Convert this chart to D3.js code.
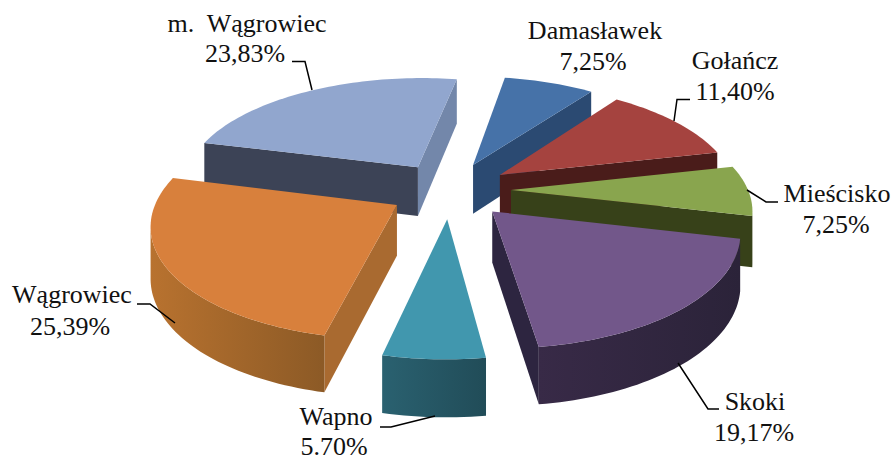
<!DOCTYPE html>
<html lang="pl">
<head>
    <meta charset="UTF-8">
    <title>Udział gmin</title>
    <style>
        html, body { margin: 0; padding: 0; background: #fff; }
        text { font-family: "Liberation Serif", serif; font-size: 26px; fill: #111; }
    </style>
</head>
<body>
    <div id="chart"></div>

    <script src="https://d3js.org/d3.v7.min.js"></script>
    <script type="text/javascript">
const names = ["Damasławek", "Gołańcz", "Mieścisko", "Skoki", "Wapno", "Wągrowiec", "m. Wągrowiec"];
const shares = [7.25, 11.40, 7.25, 19.17, 5.70, 25.39, 23.83];

const topColors = ["#4672a8", "#a5433f", "#89a54e", "#72578a", "#4197ae", "#d8803c", "#91a6ce"];
const startWallColors = ["#2f5580", "#4a1c1a", "#374119", "#2b2339", "#2a6170", "#a96a30", "#3c4356"];
const endWallColors = ["#2b4a72", "#4a1c1a", "#374119", "#2d2540", "#214c58", "#8c5a26", "#7387aa"];
const rimFrom = ["#2b4a72", "#4a1c1a", "#374119", "#2b2339", "#214c58", "#8c5a26", "#3c4356"];
const rimTo = ["#2b4a72", "#4a1c1a", "#374119", "#382a47", "#2a6170", "#b8722f", "#3c4356"];

// label text, anchor x, first and second baseline, leader line
const labelLayout = [
    { lines: ["Damasławek", "7,25%"], x: [595, 593], y: [39, 70], leader: null },
    { lines: ["Gołańcz", "11,40%"], x: [735, 735], y: [69, 100], leader: [[690, 99.5], [677, 99.5], [674, 121]] },
    { lines: ["Mieścisko", "7,25%"], x: [837, 836], y: [202, 233], leader: [[778, 202], [766, 202], [747, 190]] },
    { lines: ["Skoki", "19,17%"], x: [755, 754], y: [410, 441], leader: [[719, 409], [708, 409], [678, 363]] },
    { lines: ["Wapno", "5.70%"], x: [336, 334], y: [425, 455], leader: [[380, 427], [391, 427], [435, 416]] },
    { lines: ["Wągrowiec", "25,39%"], x: [72, 70], y: [303, 335], leader: [[137, 304], [150, 304], [175, 323]] },
    { lines: ["m.  Wągrowiec", "23,83%"], x: [247, 245], y: [32, 62], leader: [[292, 61.5], [305, 61.5], [312, 90]] }
];

const width = 894;
const height = 461;

// projection of the tilted pie
const cx = 450;
const cy = 190;
const radius = 237;
const explode = 61;
const tilt = 0.46;
const persp = 0.00064;
const depth = 50;
const firstAngle = 10 * Math.PI / 180;

const svg = d3.select("#chart")
    .append("svg")
    .attr("width", width)
    .attr("height", height)
    .style("display", "block");

const defs = svg.append("defs");

function project(u, v, z) {
    const s = 1 / (1 - persp * v);
    const zs = Math.pow(s, 0.7);
    return [cx + u * s, cy + v * tilt * s + z * depth * zs];
}

const pie = d3.pie()
    .sort(null)
    .startAngle(firstAngle)
    .endAngle(firstAngle + 2 * Math.PI);

const arcs = pie(shares);
const line = d3.line();

function signedArea(pts) {
    let a = 0;
    pts.forEach(function(p, i) {
        const q = pts[(i + 1) % pts.length];
        a += p[0] * q[1] - q[0] * p[1];
    });
    return a / 2;
}

function wallPoly(p, q) {
    return [project(p[0], p[1], 0), project(q[0], q[1], 0), project(q[0], q[1], 1), project(p[0], p[1], 1)];
}

const slices = arcs.map(function(d, i) {
    const mid = (d.startAngle + d.endAngle) / 2;
    const ax = explode * Math.sin(mid);
    const ay = -explode * Math.cos(mid);
    const steps = Math.max(6, Math.round((d.endAngle - d.startAngle) * 40));
    const rim = d3.range(steps + 1).map(function(k) {
        const a = d.startAngle + (d.endAngle - d.startAngle) * k / steps;
        return [ax + radius * Math.sin(a), ay - radius * Math.cos(a)];
    });
    return { i: i, ax: ax, ay: ay, rim: rim };
});

// back slices first
slices.sort(function(a, b) { return a.ay - b.ay; });

const chart = svg.append("g").attr("class", "pie");

slices.forEach(function(sl) {
    const g = chart.append("g").attr("class", "slice");

    function wall(p, q, color) {
        // outward faces wind the same way on screen, the rest is hidden
        const poly = wallPoly(p, q);
        if (signedArea(poly) >= 0) return;
        g.append("path")
            .attr("d", line(poly) + "Z")
            .attr("fill", color);
    }

    const apex = [sl.ax, sl.ay];
    const rim = sl.rim;
    wall(apex, rim[0], startWallColors[sl.i]);
    wall(rim[rim.length - 1], apex, endWallColors[sl.i]);

    // visible part of the outer rim, one shape with a gradient along it
    const visible = d3.pairs(rim).filter(function(pair) {
        return signedArea(wallPoly(pair[0], pair[1])) < 0;
    });
    if (visible.length) {
        const pts = visible.map(function(pair) { return pair[0]; }).concat([visible[visible.length - 1][1]]);
        const upper = pts.map(function(p) { return project(p[0], p[1], 0); });
        const lower = pts.map(function(p) { return project(p[0], p[1], 1); }).reverse();
        const gradId = "rim" + sl.i;
        const grad = defs.append("linearGradient")
            .attr("id", gradId)
            .attr("gradientUnits", "userSpaceOnUse")
            .attr("x1", upper[0][0])
            .attr("y1", 0)
            .attr("x2", upper[upper.length - 1][0])
            .attr("y2", 0);
        grad.append("stop").attr("offset", 0).attr("stop-color", rimFrom[sl.i]);
        grad.append("stop").attr("offset", 1).attr("stop-color", rimTo[sl.i]);
        g.append("path")
            .attr("d", line(upper.concat(lower)) + "Z")
            .attr("fill", "url(#" + gradId + ")");
    }

    const outline = [apex].concat(rim).map(function(p) { return project(p[0], p[1], 0); });
    g.append("path")
        .attr("d", line(outline) + "Z")
        .attr("fill", topColors[sl.i]);
});

const labels = svg.append("g").attr("class", "labels");

labelLayout.forEach(function(l) {
    if (l.leader) {
        labels.append("path")
            .attr("d", line(l.leader))
            .attr("fill", "none")
            .attr("stroke", "#000")
            .attr("stroke-width", 1.5);
    }
    l.lines.forEach(function(t, k) {
        labels.append("text")
            .attr("x", l.x[k])
            .attr("y", l.y[k])
            .attr("text-anchor", "middle")
            .style("white-space", "pre")
            .text(t);
    });
});
</script>
</body>
</html>
